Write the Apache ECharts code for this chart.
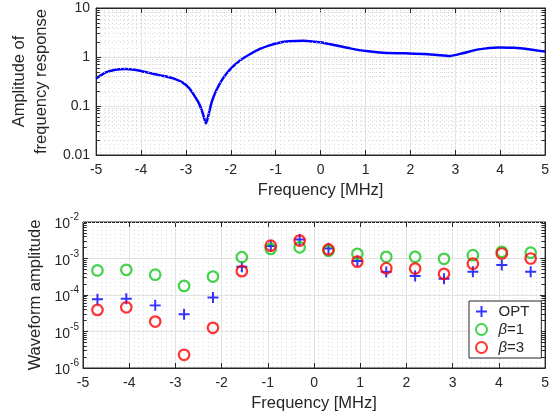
<!DOCTYPE html>
<html>
<head>
<meta charset="utf-8">
<script src="https://cdn.jsdelivr.net/npm/echarts@6/dist/echarts.min.js"></script>
<style>html,body{margin:0;padding:0;background:#fff;}#c{width:552px;height:413px;}</style>
</head>
<body>
<div id="c"></div>
<script>
// ---- data ----
const curveFreq = [-5, -4.785, -4.571, -4.356, -4.142, -3.927, -3.712, -3.498, -3.283, -3.069, -2.926, -2.82, -2.71, -2.625, -2.554, -2.497, -2.425, -2.32, -2.175, -1.996, -1.781, -1.567, -1.352, -1.137, -0.923, -0.70, -0.38, -0.021, 0.30, 0.66, 1.015, 1.373, 1.874, 2.30, 2.59, 2.876, 3.16, 3.52, 3.95, 4.31, 4.67, 5];
const curveAmp = [0.366, 0.486, 0.551, 0.569, 0.551, 0.50, 0.45, 0.41, 0.366, 0.30, 0.23, 0.167, 0.113, 0.071, 0.044, 0.066, 0.122, 0.212, 0.366, 0.587, 0.87, 1.15, 1.46, 1.73, 1.96, 2.09, 2.15, 1.99, 1.76, 1.50, 1.32, 1.22, 1.19, 1.15, 1.10, 1.05, 1.19, 1.43, 1.57, 1.55, 1.43, 1.29];
const waveFreq = [-4.6875, -4.0625, -3.4375, -2.8125, -2.1875, -1.5625, -0.9375, -0.3125, 0.3125, 0.9375, 1.5625, 2.1875, 2.8125, 3.4375, 4.0625, 4.6875];
const optAmp = [7.6e-5, 7.9e-5, 5.2e-5, 2.95e-5, 8.5e-5, 5.9e-4, 2.2e-3, 3.3e-3, 1.87e-3, 8.5e-4, 4.3e-4, 3.3e-4, 2.8e-4, 4.35e-4, 6.6e-4, 4.35e-4];
const beta1Amp = [4.7e-4, 4.9e-4, 3.6e-4, 1.77e-4, 3.2e-4, 1.09e-3, 1.83e-3, 2.03e-3, 1.62e-3, 1.34e-3, 1.11e-3, 1.11e-3, 9.8e-4, 1.23e-3, 1.52e-3, 1.44e-3];
const beta3Amp = [3.9e-5, 4.6e-5, 1.87e-5, 2.3e-6, 1.26e-5, 4.5e-4, 2.25e-3, 3.1e-3, 1.77e-3, 8.2e-4, 5.4e-4, 5.3e-4, 3.8e-4, 7.2e-4, 1.37e-3, 1.0e-3];
const topYTicks = ['0.01', '0.1', '1', '10'];
const seriesNames = ['OPT', 'β=1', 'β=3'];

// ---- helpers ----
const AX = '#262626';
const FONT = 'Liberation Sans, Arial, sans-serif';
function zip(a, b) { return a.map((v, i) => [v, b[i]]); }
function minorVals(lo, hi) {
  const out = [];
  for (let d = lo; d < hi; d++) for (let k = 2; k <= 9; k++) out.push(k * Math.pow(10, d));
  return out;
}
function minorGrid(lo, hi) {
  const vals = minorVals(lo, hi);
  const data = [];
  vals.forEach(v => {
    data.push({ yAxis: v, lineStyle: { type: [1, 3], color: '#d2d2d2', width: 1 } });
    data.push([{ coord: [-5, v], lineStyle: { type: 'solid', color: AX, width: 1 } }, { coord: [-4.92, v] }]);
    data.push([{ coord: [4.92, v], lineStyle: { type: 'solid', color: AX, width: 1 } }, { coord: [5, v] }]);
  });
  return { silent: true, symbol: 'none', label: { show: false }, animation: false, data: data };
}
function xAxisCfg(gi) {
  return {
    type: 'value', gridIndex: gi, min: -5, max: 5, interval: 1,
    axisLine: { onZero: false, lineStyle: { color: AX, width: 1 } },
    axisTick: { inside: true, length: 5, lineStyle: { color: AX } },
    axisLabel: { color: AX, fontSize: 14, fontFamily: FONT, margin: 8 },
    splitLine: { show: true, lineStyle: { color: '#e3e3e3', width: 1 } },
    minorTick: { show: false, splitNumber: 10 },
    minorSplitLine: { show: true, lineStyle: { type: [1, 3], color: '#dadada', width: 1 } },
    name: 'Frequency [MHz]', nameLocation: 'middle', nameGap: 27,
    nameTextStyle: { color: AX, fontSize: 16.5, fontFamily: FONT }
  };
}
function xTopCfg(gi) {
  return {
    type: 'value', gridIndex: gi, min: -5, max: 5, interval: 1, position: 'top',
    axisLine: { show: true, onZero: false, lineStyle: { color: AX, width: 1, type: 'solid' } },
    axisTick: { inside: true, length: 5, lineStyle: { color: AX } },
    axisLabel: { show: false }, splitLine: { show: false }
  };
}
function yRightCfg(gi, mn, mx) {
  return {
    type: 'log', logBase: 10, gridIndex: gi, min: mn, max: mx, position: 'right',
    axisLine: { show: true, onZero: false, lineStyle: { color: AX } },
    axisTick: { show: true, inside: true, length: 5, lineStyle: { color: AX } },
    axisLabel: { show: false }, splitLine: { show: false }
  };
}

const chart = echarts.init(document.getElementById('c'), null, { renderer: 'canvas' });
chart.setOption({
  animation: false,
  backgroundColor: '#fff',
  grid: [
    { left: 83, top: 8, width: 466, height: 147, show: true, borderColor: AX, borderWidth: 1, backgroundColor: '#fff' },
    { left: 83, top: 222, width: 466, height: 147, show: true, borderColor: AX, borderWidth: 1, backgroundColor: '#fff' }
  ],
  xAxis: [xAxisCfg(0), xAxisCfg(1), xTopCfg(0), xTopCfg(1)],
  yAxis: [
    {
      type: 'log', logBase: 10, gridIndex: 0, min: 0.01, max: 10,
      axisLine: { show: true, onZero: false, lineStyle: { color: AX } },
      axisTick: { show: true, inside: true, length: 5, lineStyle: { color: AX } },
      axisLabel: { color: AX, fontSize: 14, fontFamily: FONT, margin: 6,
        formatter: v => topYTicks[Math.round(Math.log10(v)) + 2] },
      splitLine: { show: true, lineStyle: { color: '#e3e3e3' } },
      name: 'Amplitude of\nfrequency response', nameLocation: 'middle', nameRotate: 90, nameGap: 33,
      nameTextStyle: { color: AX, fontSize: 16.5, fontFamily: FONT, lineHeight: 22 }
    },
    {
      type: 'log', logBase: 10, gridIndex: 1, min: 1e-6, max: 1e-2,
      axisLine: { show: true, onZero: false, lineStyle: { color: AX } },
      axisTick: { show: true, inside: true, length: 5, lineStyle: { color: AX } },
      axisLabel: { color: AX, fontSize: 14, fontFamily: FONT, margin: 4,
        formatter: v => '{b|10}{s|' + Math.round(Math.log10(v)) + '}',
        rich: {
          b: { fontSize: 14, color: AX, fontFamily: FONT, verticalAlign: 'bottom', lineHeight: 19 },
          s: { fontSize: 10, color: AX, fontFamily: FONT, verticalAlign: 'top', lineHeight: 19 }
        } },
      splitLine: { show: true, lineStyle: { color: '#e3e3e3' } },
      name: 'Waveform amplitude', nameLocation: 'middle', nameRotate: 90, nameGap: 33,
      nameTextStyle: { color: AX, fontSize: 16.5, fontFamily: FONT }
    },
    yRightCfg(0, 0.01, 10),
    yRightCfg(1, 1e-6, 1e-2)
  ],
  legend: {
    data: seriesNames, orient: 'vertical', left: 469, top: 301,
    backgroundColor: '#fff', borderColor: AX, borderWidth: 1, borderRadius: 0,
    padding: [3, 12, 3, 6], itemGap: 3, itemWidth: 24, itemHeight: 11,
    textStyle: { color: AX, fontSize: 15, fontFamily: FONT,
      rich: { i: { fontStyle: 'italic', fontSize: 15, color: AX, fontFamily: FONT } } },
    formatter: n => n.startsWith('β') ? '{i|β}' + n.slice(1) : n
  },
  series: [
    { type: 'line', xAxisIndex: 2, yAxisIndex: 2, data: [], z: 1, markLine: minorGrid(-2, 1) },
    { type: 'line', xAxisIndex: 3, yAxisIndex: 3, data: [], z: 1, markLine: minorGrid(-6, -2) },
    { type: 'line', xAxisIndex: 0, yAxisIndex: 0, data: zip(curveFreq, curveAmp), smooth: 0.2,
      showSymbol: false, lineStyle: { color: '#0000ff', width: 2.5 }, z: 3 },
    { name: seriesNames[0], type: 'scatter', xAxisIndex: 1, yAxisIndex: 1, data: zip(waveFreq, optAmp),
      symbol: 'path://M4.1,0H5.9V4.1H10V5.9H5.9V10H4.1V5.9H0V4.1H4.1Z', symbolSize: 11,
      itemStyle: { color: '#0000ff' }, z: 3 },
    { name: seriesNames[1], type: 'scatter', xAxisIndex: 1, yAxisIndex: 1, data: zip(waveFreq, beta1Amp),
      symbol: 'circle', symbolSize: 10.5,
      itemStyle: { color: 'rgba(0,0,0,0)', borderColor: '#14c81e', borderWidth: 2.2 }, z: 3 },
    { name: seriesNames[2], type: 'scatter', xAxisIndex: 1, yAxisIndex: 1, data: zip(waveFreq, beta3Amp),
      symbol: 'circle', symbolSize: 10.5,
      itemStyle: { color: 'rgba(0,0,0,0)', borderColor: '#ff0000', borderWidth: 2.2 }, z: 3 }
  ]
});
</script>
</body>
</html>
